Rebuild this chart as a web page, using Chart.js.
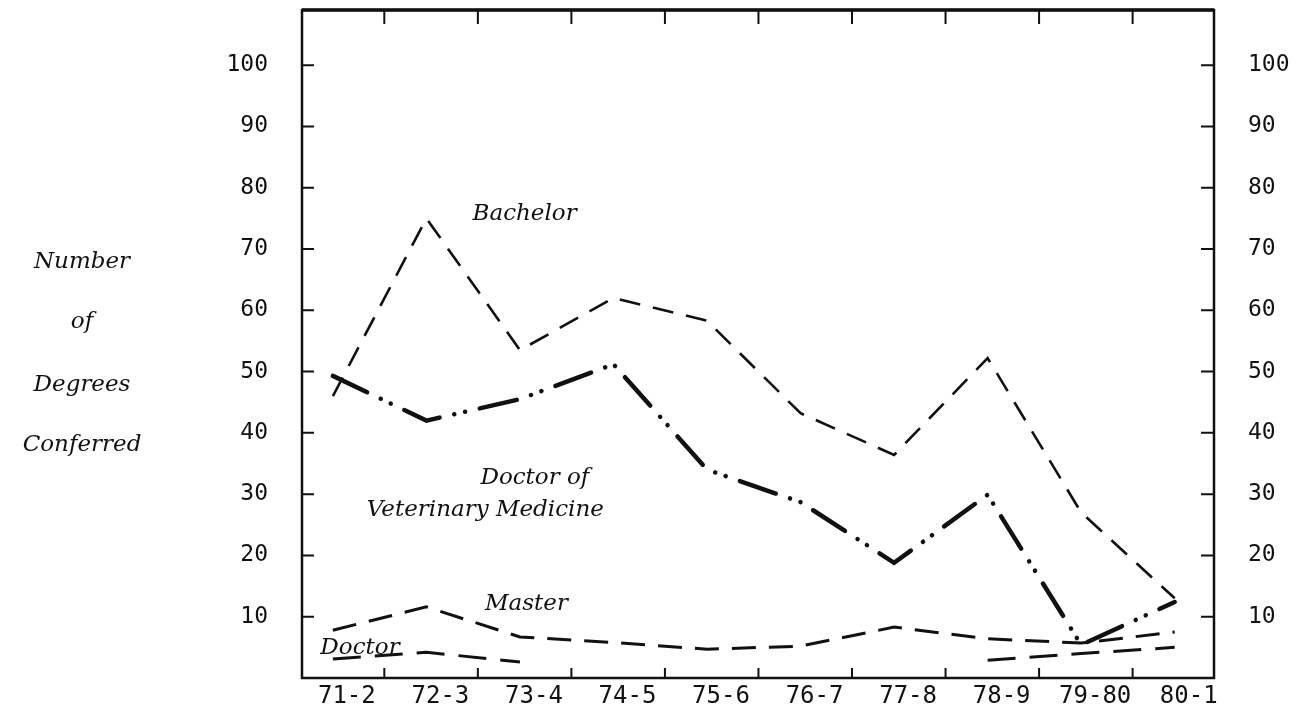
<!DOCTYPE html>
<html>
<head>
<meta charset="utf-8">
<script src="https://cdn.jsdelivr.net/npm/chart.js@4.4.1/dist/chart.umd.min.js"></script>
<style>
    html, body { margin: 0; padding: 0; background: #fff; }
    #wrap { width: 1305px; height: 712px; }
</style>
</head>
<body>
<div id="wrap"><canvas id="degreesChart" width="1305" height="712"></canvas></div>
<script>
const categories = ['71-2', '72-3', '73-4', '74-5', '75-6', '76-7', '77-8', '78-9', '79-80', '80-1'];
const bachelor = [46, 75, 53.5, 62, 58.3, 43.2, 36.4, 52.2, 27, 13];
const vetMedicine = [49.3, 42, 45.5, 51.2, 34, 28.7, 18.8, 29.9, 5.4, 12.4];
const master = [7.8, 11.6, 6.7, 5.8, 4.7, 5.2, 8.3, 6.4, 5.7, 7.5];
const doctor = [3.1, 4.2, 2.6, null, null, null, null, 2.9, 4, 5];
const yTicks = [10, 20, 30, 40, 50, 60, 70, 80, 90, 100];

// series labels, placed in data units (category index, value)
const seriesLabels = [
    { text: 'Bachelor', x: 2.05, y: 75.7 },
    { text: 'Doctor of', x: 2.16, y: 32.6 },
    { text: 'Veterinary Medicine', x: 1.63, y: 27.4 },
    { text: 'Master', x: 2.07, y: 12.1 },
    { text: 'Doctor', x: 0.29, y: 4.9 }
];
const yTitleLines = [
    { text: 'Number', y: 67.9 },
    { text: 'of', y: 58.1 },
    { text: 'Degrees', y: 47.8 },
    { text: 'Conferred', y: 38 }
];

const INK = '#111';
const italicFont = 'italic 23px "DejaVu Serif"';

function toPoints(values) {
    return values.map((v, i) => ({ x: i, y: v }));
}

function noPadding(scale) {
    scale.paddingTop = 0;
    scale.paddingBottom = 0;
    scale.paddingLeft = 0;
    scale.paddingRight = 0;
}

const framePlugin = {
    id: 'frame',
    beforeDatasetsDraw(chart) {
        const ctx = chart.ctx;
        const a = chart.chartArea;
        const x = chart.scales.x;
        const y = chart.scales.y;
        ctx.save();
        ctx.strokeStyle = INK;
        ctx.lineWidth = 2.5;
        ctx.strokeRect(a.left, a.top, a.right - a.left, a.bottom - a.top);
        ctx.lineWidth = 3.5;
        ctx.beginPath();
        ctx.moveTo(a.left, a.top);
        ctx.lineTo(a.right, a.top);
        ctx.stroke();

        // inward tick marks
        ctx.lineWidth = 2;
        ctx.beginPath();
        yTicks.forEach(v => {
            const py = y.getPixelForValue(v);
            ctx.moveTo(a.left, py);
            ctx.lineTo(a.left + 12, py);
            ctx.moveTo(a.right, py);
            ctx.lineTo(a.right - 13, py);
        });
        categories.slice(0, -1).forEach((c, i) => {
            const px = x.getPixelForValue(i + 0.55);
            ctx.moveTo(px, a.bottom);
            ctx.lineTo(px, a.bottom - 10);
            ctx.moveTo(px, a.top);
            ctx.lineTo(px, a.top + 14);
        });
        ctx.stroke();
        ctx.restore();
    },
    afterDatasetsDraw(chart) {
        const ctx = chart.ctx;
        const x = chart.scales.x;
        const y = chart.scales.y;
        ctx.save();
        ctx.fillStyle = INK;
        ctx.font = italicFont;
        ctx.textAlign = 'center';
        ctx.textBaseline = 'middle';
        seriesLabels.forEach(l => {
            ctx.fillText(l.text, x.getPixelForValue(l.x), y.getPixelForValue(l.y));
        });
        yTitleLines.forEach(l => {
            ctx.fillText(l.text, 82, y.getPixelForValue(l.y));
        });
        ctx.restore();
    }
};

const yScaleBase = {
    type: 'linear',
    min: 0,
    max: 109,
    grid: { display: false, drawTicks: false },
    border: { display: false },
    afterBuildTicks: scale => { scale.ticks = yTicks.map(v => ({ value: v })); },
    ticks: {
        color: INK,
        padding: 34,
        font: { family: '"DejaVu Sans Mono"', size: 23 }
    }
};

new Chart(document.getElementById('degreesChart'), {
    type: 'line',
    data: {
        datasets: [
            {
                label: 'Bachelor',
                data: toPoints(bachelor),
                borderColor: INK,
                borderWidth: 2.6,
                borderDash: [21, 13],
                pointRadius: 0,
                tension: 0
            },
            {
                label: 'Doctor of Veterinary Medicine',
                data: toPoints(vetMedicine),
                borderColor: INK,
                borderWidth: 4.5,
                borderCapStyle: 'round',
                borderDash: [38, 15, 0.1, 11, 0.1, 15],
                pointRadius: 0,
                tension: 0
            },
            {
                label: 'Master',
                data: toPoints(master),
                borderColor: INK,
                borderWidth: 3,
                borderDash: [24, 13],
                pointRadius: 0,
                tension: 0
            },
            {
                label: 'Doctor',
                data: toPoints(doctor),
                borderColor: INK,
                borderWidth: 3,
                borderDash: [28, 14],
                pointRadius: 0,
                spanGaps: false,
                tension: 0
            }
        ]
    },
    options: {
        responsive: false,
        animation: false,
        layout: { padding: { top: 10, left: 0, right: 0, bottom: 0 } },
        plugins: {
            legend: { display: false },
            tooltip: { enabled: false }
        },
        scales: {
            x: {
                type: 'linear',
                min: -0.33,
                max: 9.42,
                grid: { display: false, drawTicks: false },
                border: { display: false },
                afterBuildTicks: scale => { scale.ticks = categories.map((c, i) => ({ value: i })); },
                afterFit: scale => { scale.height = 34; noPadding(scale); },
                ticks: {
                    color: INK,
                    padding: 4,
                    labelOffset: 14,
                    autoSkip: false,
                    maxRotation: 0,
                    font: { family: '"DejaVu Sans Mono"', size: 24 },
                    callback: value => categories[value]
                }
            },
            y: Object.assign({}, yScaleBase, {
                position: 'left',
                afterFit: scale => { scale.width = 302; noPadding(scale); }
            }),
            y2: Object.assign({}, yScaleBase, {
                position: 'right',
                afterFit: scale => { scale.width = 91; noPadding(scale); }
            })
        }
    },
    plugins: [framePlugin]
});
</script>
</body>
</html>
